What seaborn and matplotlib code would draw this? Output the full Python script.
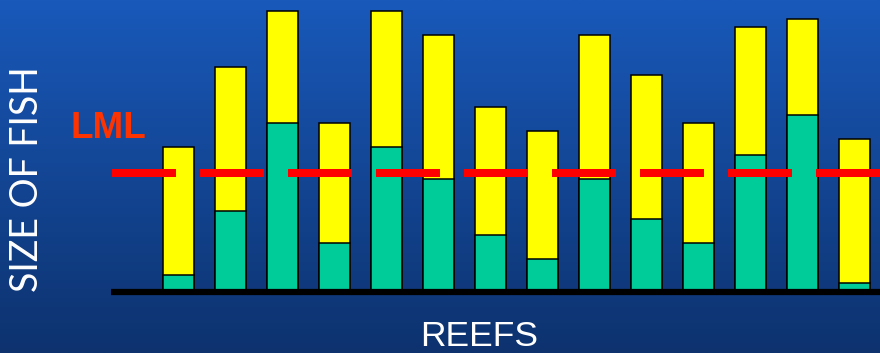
import numpy as np
import pandas as pd
import matplotlib
matplotlib.use("Agg")
import matplotlib.pyplot as plt
import seaborn as sns

# ---- data ----
reefs = [str(i) for i in range(1, 15)]
total_size = [18, 28, 35, 21, 35, 32, 23, 20, 32, 27, 21, 33, 34, 19]
legal_size = [2, 10, 21, 6, 18, 14, 7, 4, 14, 9, 6, 17, 22, 1]
lml_value = 14.7

df = pd.DataFrame({"reef": reefs, "total": total_size, "legal": legal_size})

W, H = 880, 353
fig = plt.figure(figsize=(W / 100, H / 100), dpi=100)

# gradient background
bg = fig.add_axes([0, 0, 1, 1], zorder=0)
top = np.array([0x19, 0x59, 0xba]) / 255
bot = np.array([0x0d, 0x32, 0x6e]) / 255
t = np.linspace(0, 1, 256)[:, None]
grad = (top[None, :] * (1 - t) + bot[None, :] * t)[:, None, :]
bg.imshow(grad, aspect="auto", extent=[0, 1, 0, 1])
bg.set_axis_off()

ax = fig.add_axes([0, 0, 1, 1], zorder=1)
ax.patch.set_alpha(0)

sns.barplot(data=df, x="reef", y="total", color="#ffff00", width=0.6,
            edgecolor="black", linewidth=1.1, saturation=1, ax=ax)
sns.barplot(data=df, x="reef", y="legal", color="#00cc99", width=0.6,
            edgecolor="black", linewidth=1.1, saturation=1, ax=ax)

# pixel mapping: x_pix = 178.3 + 52*i ; y_pix = 290.7 - 8*v
ax.set_xlim((0 - 178.3) / 52, (W - 178.3) / 52)
ax.set_ylim((290.7 - H) / 8, 290.7 / 8)

# baseline
ax.axhline(-0.12, xmin=111 / W, xmax=1, color="black", linewidth=4.5,
           solid_capstyle="butt", zorder=4)
# LML dashed line
ax.axhline(lml_value, xmin=112 / W, xmax=1, color="#ff0000", linewidth=5.76,
           dashes=(8, 3), dash_capstyle="butt", zorder=5)

ax.set_axis_off()

fig.text(108.8 / W, 1 - 128.3 / H, "LML", color="#ff3300", fontsize=26.5,
         fontweight="bold", family="Liberation Sans", ha="center", va="center")
fig.text(478.8 / W, 1 - 336 / H, "REEFS", color="white", fontsize=25.5,
         family="Liberation Sans", ha="center", va="center")
fig.text(27.5 / W, 1 - 179 / H, "SIZE OF FISH", color="white", fontsize=27,
         family="Lato", fontweight="normal", rotation=90, ha="center", va="center")

fig.savefig("out.png", dpi=100)
